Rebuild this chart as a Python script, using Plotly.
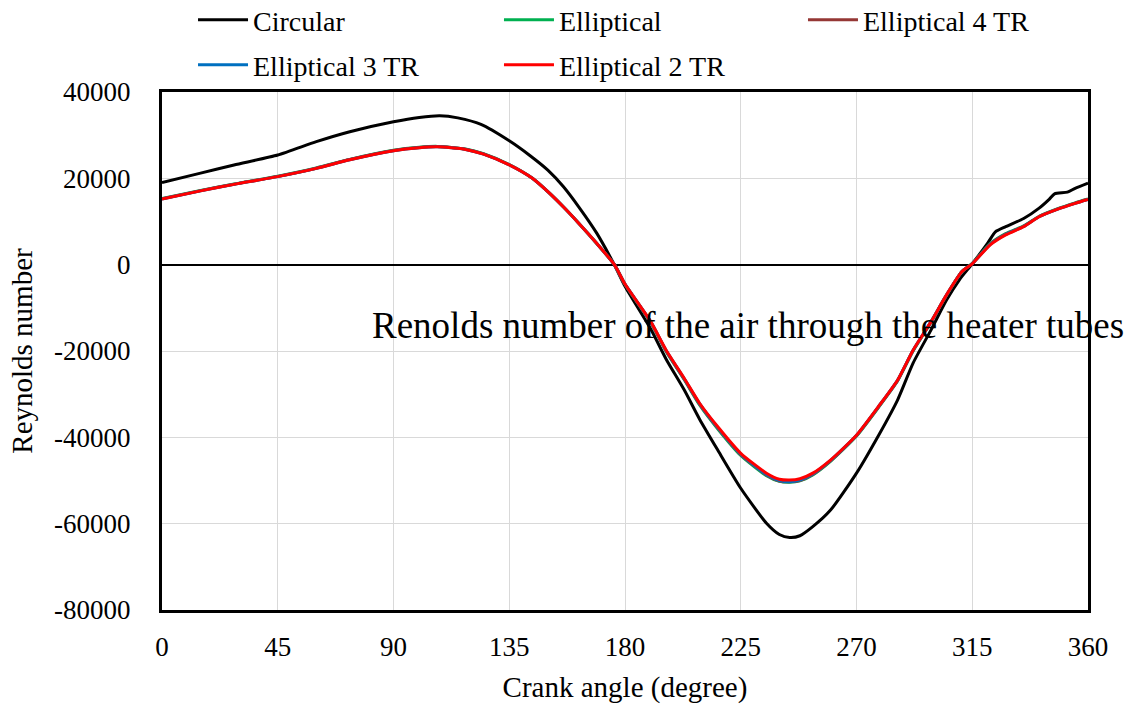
import plotly.graph_objects as go

# Crank angle (degree)
angle_circ = [0, 15, 28, 45, 60, 73, 90, 100, 108, 115, 124, 135, 143, 150, 156, 162, 169, 176,
              180, 190, 196, 203, 209, 216, 225, 235, 240, 244, 248, 253, 260, 270, 279, 286,
              292, 299, 305, 310, 315, 321, 324, 328, 335, 341, 345, 347, 352, 355, 360]
re_circular = [19000, 21200, 23100, 25400, 28500, 30800, 33100, 34100, 34500, 34000, 32500, 28700,
               25300, 21900, 18100, 13400, 7300, -200,
               -5000, -14900, -21900, -29000, -35800, -42900, -51800, -59900, -62500, -63200,
               -62800, -60700, -56800, -48300, -39100, -31300,
               -22800, -15100, -8200, -3500, 200, 5000, 7600, 8800, 10700, 13100, 15200, 16400,
               16800, 17700, 18900]

angle_ell = [0, 15, 28, 45, 60, 73, 90, 100, 107, 118, 125, 135, 144, 150, 156, 162, 169, 176,
             180, 190, 196, 203, 209, 216, 225, 235, 240, 244, 248, 253, 260, 270, 279, 286,
             292, 299, 305, 311, 315, 322, 328, 335, 341, 348, 355, 360]
re_elliptical = [15300, 17200, 18700, 20500, 22400, 24400, 26500, 27200, 27400, 26800, 25700, 23200,
                 20000, 16900, 13400, 9600, 4900, -100,
                 -4600, -13400, -20100, -26600, -32500, -38000, -44200, -48900, -50200, -50400,
                 -50100, -48700, -45500, -39700, -32700, -26900,
                 -20000, -13300, -7100, -1600, 300, 4900, 7200, 9000, 11200, 12900, 14300, 15200]
re_ell_4tr = [15250, 17150, 18650, 20450, 22350, 24350, 26450, 27150, 27350, 26750, 25650, 23150,
              20000, 16900, 13400, 9600, 4900, -100,
              -4550, -13300, -20000, -26500, -32300, -37800, -44000, -48700, -50100, -50300,
              -50000, -48600, -45400, -39600, -32600, -26800,
              -19900, -13250, -7050, -1600, 250, 4800, 7100, 8900, 11150, 12850, 14250, 15150]
re_ell_3tr = [15200, 17100, 18600, 20400, 22300, 24300, 26400, 27100, 27300, 26700, 25600, 23100,
              20000, 16900, 13400, 9600, 4950, -100,
              -4500, -13200, -19900, -26400, -32200, -37700, -43900, -48600, -50000, -50300,
              -49900, -48500, -45300, -39500, -32500, -26700,
              -19800, -13200, -7000, -1600, 200, 4700, 7000, 8850, 11100, 12800, 14200, 15100]
re_ell_2tr = [15200, 17100, 18600, 20400, 22300, 24300, 26400, 27100, 27300, 26700, 25600, 23100,
              20000, 16900, 13400, 9600, 4950, -100,
              -4500, -13200, -19800, -26300, -32100, -37500, -43700, -48300, -49700, -49900,
              -49600, -48300, -45200, -39500, -32500, -26700,
              -19800, -13200, -7000, -1600, 200, 4600, 6900, 8800, 11100, 12800, 14200, 15100]

x_ticks = [0, 45, 90, 135, 180, 225, 270, 315, 360]
y_ticks = [40000, 20000, 0, -20000, -40000, -60000, -80000]

FONT = "Liberation Serif, Times New Roman, serif"

fig = go.Figure()
series = [
    ("Circular", angle_circ, re_circular, "#000000", "legend", 0.0335, 1.139),
    ("Elliptical", angle_ell, re_elliptical, "#00b050", "legend2", 0.3639, 1.139),
    ("Elliptical 4 TR", angle_ell, re_ell_4tr, "#953735", "legend3", 0.6922, 1.139),
    ("Elliptical 3 TR", angle_ell, re_ell_3tr, "#0070c0", "legend4", 0.0335, 1.052),
    ("Elliptical 2 TR", angle_ell, re_ell_2tr, "#ff0000", "legend5", 0.3639, 1.052),
]
legend_layout = {}
for name, xs, ys, color, lg, lx, ly in series:
    fig.add_trace(go.Scatter(
        x=xs, y=ys, name=name, mode="lines",
        line=dict(color=color, width=3, shape="spline", smoothing=0.6),
        legend=lg,
    ))
    legend_layout[lg] = dict(
        x=lx, y=ly, xref="paper", yref="paper",
        orientation="h", xanchor="left", yanchor="middle",
        font=dict(family=FONT, size=28, color="#000000"),
        bgcolor="rgba(0,0,0,0)", borderwidth=0, itemwidth=50,
        itemclick=False, itemdoubleclick=False,
    )

fig.add_annotation(
    x=227.8, y=-14200, xref="x", yref="y",
    text="Renolds number of the air through the heater tubes",
    showarrow=False, font=dict(family=FONT, size=37, color="#000000"),
)

fig.update_layout(
    width=1129, height=707,
    margin=dict(l=162, r=41, t=92, b=97, autoexpand=False),
    paper_bgcolor="white", plot_bgcolor="white",
    font=dict(family=FONT, size=27, color="#000000"),
    showlegend=True,
    **legend_layout,
)

fig.update_xaxes(
    range=[0, 360], tickvals=x_ticks, ticktext=[str(v) for v in x_ticks],
    showgrid=True, gridcolor="#d9d9d9", gridwidth=1,
    showline=True, linecolor="#000000", linewidth=3, mirror=True,
    ticks="", ticklabelstandoff=11,
    tickfont=dict(family=FONT, size=27, color="#000000"),
    title=dict(text="Crank angle (degree)", font=dict(family=FONT, size=29, color="#000000"), standoff=16),
    zeroline=False,
)
fig.update_yaxes(
    range=[-80000, 40000], tickvals=y_ticks, ticktext=[str(v) for v in y_ticks],
    showgrid=True, gridcolor="#d9d9d9", gridwidth=1,
    showline=True, linecolor="#000000", linewidth=3, mirror=True,
    ticks="", ticklabelstandoff=23,
    tickfont=dict(family=FONT, size=27, color="#000000"),
    title=dict(text="Reynolds number", font=dict(family=FONT, size=29, color="#000000"), standoff=13),
    zeroline=True, zerolinecolor="#000000", zerolinewidth=2,
)

fig.write_html("out.html")
